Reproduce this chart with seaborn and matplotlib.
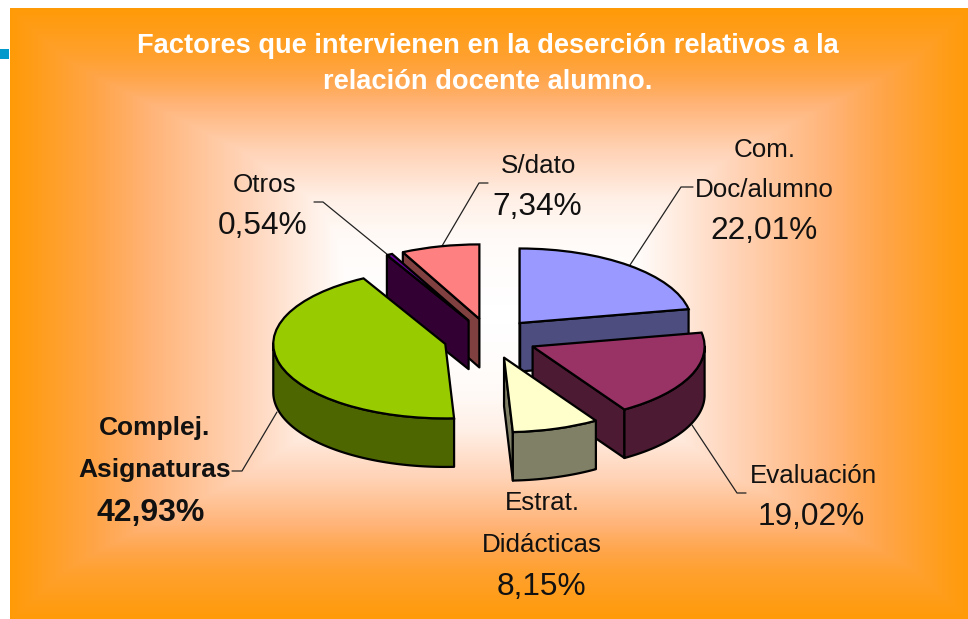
import numpy as np
import matplotlib
matplotlib.use("Agg")
import matplotlib.pyplot as plt
from matplotlib.colors import LinearSegmentedColormap
from matplotlib.patches import Rectangle
import seaborn as sns

# ---- data -------------------------------------------------------------
categories = ["Com. Doc/alumno", "Evaluación", "Estrat. Didácticas",
              "Complej. Asignaturas", "Otros", "S/dato"]
values = [22.01, 19.02, 8.15, 42.93, 0.54, 7.34]
top_colors = ["#9999FF", "#993366", "#FFFFCC", "#99CC00", "#660099", "#FF8080"]
side_colors = ["#4D4D80", "#4D1A33", "#808066", "#4D6600", "#330033", "#804040"]
draw_order = [0, 5, 4, 3, 1, 2]
title = "Factores que intervienen en la deserción relativos a la\nrelación docente alumno."

W, H = 968, 619
RX, RY, DEPTH = 172.0, 74.5, 48.5
CX, CY = 490.0, 338.5
EXPLODE = 0.27
K = RY / RX

sns.set_theme(style="white")
plt.rcParams["font.family"] = ["Liberation Sans", "DejaVu Sans"]
fig = plt.figure(figsize=(W / 100, H / 100), dpi=100, facecolor="white")
ax = fig.add_axes([0, 0, 1, 1])


def Y(py):
    return (H - py) / K


# ---- pie --------------------------------------------------------------
wedges, _ = ax.pie(values, colors=sns.color_palette(top_colors),
                   explode=[EXPLODE * RX] * len(values), radius=RX,
                   center=(CX, Y(CY)), startangle=90, counterclock=False,
                   wedgeprops=dict(edgecolor="black", linewidth=1.6))
ax.set_aspect("auto")
ax.set_xlim(0, W)
ax.set_ylim(0, H / K)
ax.axis("off")

# ---- background: rectangular-path gradient ----------------------------
ramp = LinearSegmentedColormap.from_list("ramp", [
    (0.00, "#FF9900"), (0.30, "#FFA64D"), (0.43, "#FFB478"),
    (0.72, "#FFD6BC"), (1.00, "#FFFFFF")])
gx, gy = np.meshgrid(np.arange(10, W, 2.0), np.arange(9, H, 2.0))
shade_x = np.interp(np.abs(gx - 489), [0, 140, 239, 339, 389, 479],
                    [1.0, 1.0, 0.72, 0.43, 0.30, 0.03])
shade_y = np.interp(np.abs(gy - 314), [0, 74, 114, 164, 206, 256, 305],
                    [1.0, 0.97, 0.90, 0.69, 0.45, 0.19, 0.03])
ax.imshow(np.minimum(shade_x, shade_y), cmap=ramp, vmin=0, vmax=1,
          aspect="auto", zorder=0, extent=(10, W, Y(619), Y(9)),
          origin="upper", interpolation="bilinear")
ax.set_xlim(0, W)
ax.set_ylim(0, H / K)
ax.add_patch(Rectangle((0, Y(59)), 9, Y(49) - Y(59), facecolor="#0099CC",
                       edgecolor="none", zorder=1))

# ---- extruded sides ---------------------------------------------------
dz = DEPTH / K
for rank, i in enumerate(draw_order):
    w = wedges[i]
    z = 2 + rank
    w.set_zorder(z + 0.5)
    cx, cy = w.center
    t = np.radians(np.linspace(w.theta1, w.theta2, 160))
    ax_x = cx + w.r * np.cos(t)
    ax_y = cy + w.r * np.sin(t)
    faces = [(np.array([cx, ax_x[0]]), np.array([cy, ax_y[0]])),
             (ax_x, ax_y),
             (np.array([ax_x[-1], cx]), np.array([ax_y[-1], cy]))]
    for fx, fy in faces:
        front = np.diff(fx) > 0
        if not front.any():
            continue
        idx = np.flatnonzero(front)
        splits = np.split(idx, np.flatnonzero(np.diff(idx) > 1) + 1)
        for run in splits:
            sel = np.r_[run, run[-1] + 1]
            xs = np.r_[fx[sel], fx[sel][::-1]]
            ys = np.r_[fy[sel], fy[sel][::-1] - dz]
            ax.fill(xs, ys, facecolor=side_colors[i], edgecolor="black",
                    linewidth=1.6, joinstyle="round", zorder=z)

# ---- leaders ----------------------------------------------------------
leaders = [
    [(693, 187), (681, 187), (630, 265)],
    [(746, 493), (737, 493), (692, 425)],
    [(232, 471), (242, 471), (277, 412)],
    [(314, 202), (323, 202), (388, 255)],
    [(488, 183), (479, 183), (442, 246)],
]
for pts in leaders:
    ax.plot([p[0] for p in pts], [Y(p[1]) for p in pts], color="#222222",
            linewidth=0.9, zorder=1.5)

# ---- labels -----------------------------------------------------------
NAME, PCT, BNAME, BPCT = 18.7, 22.8, 19, 23
labels = [
    ("Com.", 765, 150, NAME, "normal"),
    ("Doc/alumno", 764, 190, NAME, "normal"),
    ("22,01%", 764, 231, PCT, "normal"),
    ("Evaluación", 813, 476, NAME, "normal"),
    ("19,02%", 811, 517, PCT, "normal"),
    ("Estrat.", 542, 503, NAME, "normal"),
    ("Didácticas", 542, 545, NAME, "normal"),
    ("8,15%", 541, 587, PCT, "normal"),
    ("Complej.", 155, 428, BNAME, "bold"),
    ("Asignaturas", 155, 470, BNAME, "bold"),
    ("42,93%", 151, 513, BPCT, "bold"),
    ("Otros", 265, 185, NAME, "normal"),
    ("0,54%", 263, 226, PCT, "normal"),
    ("S/dato", 539, 166, NAME, "normal"),
    ("7,34%", 537, 207, PCT, "normal"),
]
for s, x, y, fs, fw in labels:
    ax.text(x, Y(y), s, ha="center", va="center", fontsize=fs,
            fontweight=fw, color="#111111", zorder=20)

ax.text(488, Y(64), title, ha="center", va="center", color="white",
        fontsize=19.6, fontweight="bold", linespacing=1.52, zorder=20)

fig.savefig("out.png", dpi=100)
